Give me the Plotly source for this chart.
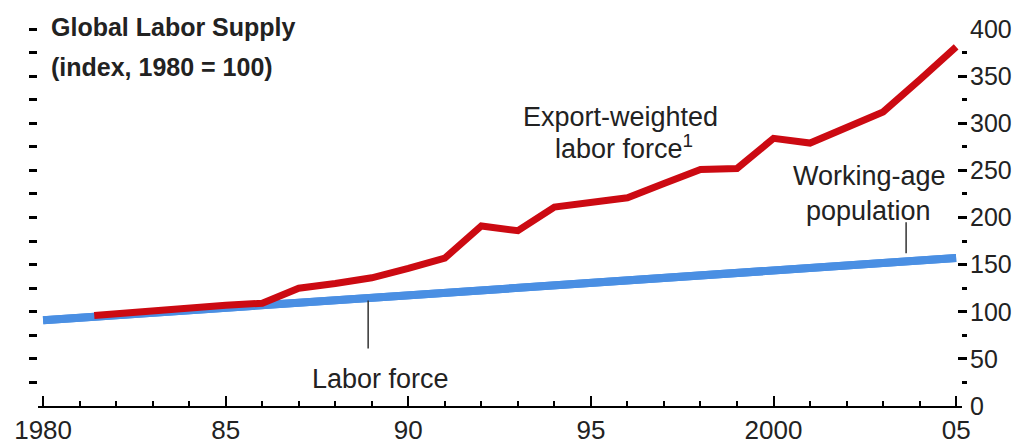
import plotly.graph_objects as go

# blue lines (labor force and working-age population overlap in the chart)
pop_years = [1980, 1985, 1990, 1995, 2000, 2005]
labor_force = [91, 104, 117, 130, 144, 157]
working_age = [91, 104, 117, 130, 144, 157]

# red line
export_years = [1981.4, 1982, 1983, 1984, 1985, 1986, 1987, 1988, 1989, 1990,
                1991, 1992, 1993, 1994, 1995, 1996, 1997, 1998, 1999, 2000,
                2001, 2002, 2003, 2004, 2005]
export_weighted = [96, 98, 101, 104, 107, 109, 125, 130, 136, 146,
                   157, 191, 186, 211, 216, 221, 236, 251, 252, 284,
                   279, 295, 312, 346, 381]

x_tickvals = [1980, 1985, 1990, 1995, 2000, 2005]
x_ticktext = ["1980", "85", "90", "95", "2000", "05"]
y_tickvals = [0, 50, 100, 150, 200, 250, 300, 350, 400]
y_ticktext = ["0", "50", "100", "150", "200", "250", "300", "350", "400"]
left_tickvals = [25 * i for i in range(1, 17)]

RED = "#CC0A12"
BLUE = "#4A8FE3"
TXT = "#222222"
FONT = "Liberation Sans, Arial, sans-serif"

fig = go.Figure()

fig.add_trace(go.Scatter(x=pop_years, y=working_age, mode="lines",
                         line=dict(color=BLUE, width=8), name="Working-age population"))
fig.add_trace(go.Scatter(x=pop_years, y=labor_force, mode="lines",
                         line=dict(color=BLUE, width=8), name="Labor force"))
# red on the overlay axis so it sits above the blue
fig.add_trace(go.Scatter(x=export_years, y=export_weighted, mode="lines", yaxis="y2",
                         line=dict(color=RED, width=7), name="Export-weighted labor force"))

fig.update_layout(
    width=1025, height=444,
    margin=dict(l=38, r=58, t=29, b=38),
    paper_bgcolor="white", plot_bgcolor="white",
    showlegend=False,
    font=dict(family=FONT, color=TXT),
    xaxis=dict(
        domain=[0, 0.9946], range=[1979.86, 2005.16], automargin=False,
        tickvals=x_tickvals, ticktext=x_ticktext,
        ticks="inside", ticklen=10, tickwidth=2, tickcolor="black",
        minor=dict(dtick=1, tick0=1980, ticks="inside", ticklen=5, tickwidth=2, tickcolor="black"),
        showline=True, linecolor="black", linewidth=2,
        showgrid=False, zeroline=False,
        tickfont=dict(size=26, color=TXT), ticklabelstandoff=0,
    ),
    yaxis=dict(
        side="right", anchor="free", position=1, range=[0, 400], automargin=False,
        tickvals=y_tickvals, ticktext=y_ticktext,
        ticks="inside", ticklen=9, tickwidth=3, tickcolor="black",
        minor=dict(dtick=25, tick0=0, ticks="inside", ticklen=5, tickwidth=3, tickcolor="black"),
        showline=False, showgrid=False, zeroline=False,
        tickfont=dict(size=25, color=TXT), ticklabelstandoff=2,
    ),
    yaxis2=dict(
        overlaying="y", side="left", anchor="x", range=[0, 400], automargin=False,
        tickvals=left_tickvals, showticklabels=False,
        ticks="outside", ticklen=8, tickwidth=3, tickcolor="black",
        showline=False, showgrid=False, zeroline=False,
    ),
)

# title, in paper coordinates (sits above the top of the plot)
fig.add_annotation(text="<b>Global Labor Supply</b>", x=0.012, y=1.005,
                   xref="paper", yref="paper", xanchor="left", yanchor="middle",
                   showarrow=False, font=dict(family=FONT, size=25, color=TXT))
fig.add_annotation(text="<b>(index, 1980 = 100)</b>", x=0.012, y=0.9,
                   xref="paper", yref="paper", xanchor="left", yanchor="middle",
                   showarrow=False, font=dict(family=FONT, size=25, color=TXT))

# series labels
notes = [
    ("Export-weighted", 1995.82, 307, 27),
    ("labor force<sup>1</sup>", 1995.9, 275, 27),
    ("Working-age", 2002.64, 244, 27),
    ("population", 2002.6, 207, 27),
    ("Labor force", 1989.23, 29, 27),
]
for text, x, y, size in notes:
    fig.add_annotation(text=text, x=x, y=y, xref="x", yref="y", xanchor="center",
                       yanchor="middle", showarrow=False,
                       font=dict(family=FONT, size=size, color=TXT))

# pointer lines
fig.add_shape(type="line", xref="x", yref="y", x0=1988.9, x1=1988.9, y0=61, y1=112,
              line=dict(color="#333333", width=1.5))
fig.add_shape(type="line", xref="x", yref="y", x0=2003.63, x1=2003.63, y0=162, y1=195,
              line=dict(color="#333333", width=1.5))

# drop the page's default body margin so the 1025x444 figure fills the window
fig.write_html("out.html", config={"displayModeBar": False},
               post_script="document.body.style.margin='0';")
